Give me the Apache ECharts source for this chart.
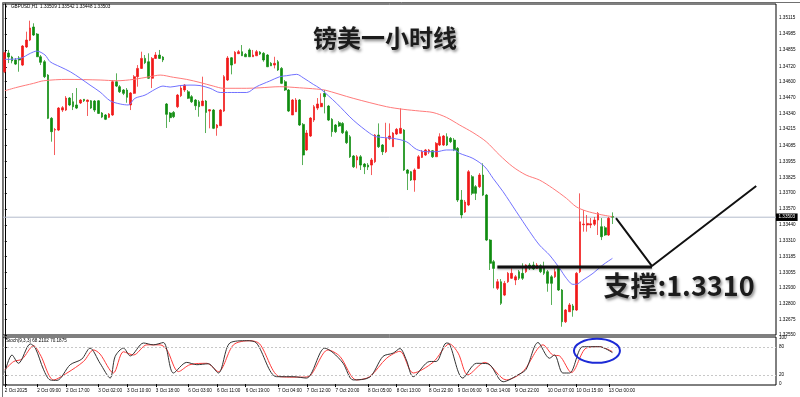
<!DOCTYPE html>
<html><head><meta charset="utf-8">
<script src="https://cdn.jsdelivr.net/npm/echarts@6/dist/echarts.min.js"></script>
<style>html,body{margin:0;padding:0;background:#fff}#c{width:800px;height:397px}</style>
</head><body><div id="c"></div><script>
// ---------- DATA ----------
const dayList = ['2 Oct','3 Oct','6 Oct','7 Oct','8 Oct','9 Oct','10 Oct','13 Oct','14 Oct'];
const SLOTS = 215;
const categories = [];
for (const d of dayList) for (let h = 0; h < 24; h++) if (categories.length < SLOTS) categories.push(d + ' ' + String(h).padStart(2,'0') + ':00');

const timeTicks = ['2 Oct 00:00','2 Oct 09:00','2 Oct 17:00','3 Oct 02:00','3 Oct 10:00','3 Oct 18:00','6 Oct 03:00','6 Oct 11:00','6 Oct 19:00','7 Oct 04:00','7 Oct 12:00','7 Oct 20:00','8 Oct 05:00','8 Oct 13:00','8 Oct 22:00','9 Oct 06:00','9 Oct 14:00','9 Oct 22:00','10 Oct 07:00','10 Oct 15:00','13 Oct 00:00'];
const firstTickText = '2 Oct 2025';

// [open, close, low, high]
const candles = [
[1.34680,1.34834,1.34669,1.34842],[1.34831,1.34799,1.34750,1.34856],[1.34799,1.34767,1.34748,1.34809],[1.34775,1.34742,1.34734,1.34791],
[1.34791,1.34775,1.34680,1.34807],[1.34734,1.34888,1.34726,1.34896],[1.34880,1.34936,1.34872,1.35004],[1.34936,1.35034,1.34928,1.35093],
[1.35042,1.34977,1.34969,1.35072],[1.34985,1.34801,1.34799,1.34993],[1.34801,1.34756,1.34734,1.34815],[1.34761,1.34640,1.34629,1.34775],
[1.34653,1.34303,1.34297,1.34661],[1.34303,1.34195,1.34114,1.34313],[1.34208,1.34212,1.34006,1.34225],[1.34208,1.34386,1.34200,1.34394],
[1.34370,1.34389,1.34354,1.34402],[1.34370,1.34467,1.34362,1.34483],[1.34467,1.34411,1.34402,1.34475],[1.34437,1.34397,1.34370,1.34508],
[1.34411,1.34386,1.34378,1.34548],[1.34427,1.34451,1.34419,1.34459],[1.34457,1.34445,1.34435,1.34459],[1.34439,1.34451,1.34322,1.34455],
[1.34445,1.34386,1.34378,1.34451],[1.34443,1.34370,1.34354,1.34451],[1.34445,1.34343,1.34338,1.34451],[1.34346,1.34313,1.34305,1.34354],
[1.34330,1.34295,1.34289,1.34338],[1.34311,1.34338,1.34305,1.34346],[1.34330,1.34599,1.34322,1.34613],[1.34599,1.34564,1.34556,1.34667],
[1.34559,1.34518,1.34508,1.34572],[1.34532,1.34505,1.34491,1.34540],[1.34532,1.34473,1.34429,1.34548],[1.34411,1.34508,1.34370,1.34516],
[1.34505,1.34640,1.34500,1.34653],[1.34640,1.34707,1.34559,1.34734],[1.34707,1.34788,1.34702,1.34842],[1.34788,1.34753,1.34742,1.34815],
[1.34761,1.34627,1.34621,1.34829],[1.34627,1.34788,1.34548,1.34799],[1.34788,1.34815,1.34783,1.34839],[1.34815,1.34788,1.34783,1.34856],
[1.34799,1.34775,1.34758,1.34807],[1.34419,1.34335,1.34225,1.34427],[1.34346,1.34308,1.34273,1.34354],[1.34351,1.34316,1.34305,1.34362],
[1.34397,1.34491,1.34386,1.34500],[1.34486,1.34548,1.34475,1.34564],[1.34532,1.34572,1.34516,1.34580],[1.34518,1.34465,1.34459,1.34532],
[1.34478,1.34437,1.34427,1.34491],[1.34451,1.34405,1.34370,1.34459],[1.34437,1.34397,1.34316,1.34451],[1.34405,1.34443,1.34402,1.34640],
[1.34443,1.34351,1.34184,1.34451],[1.34362,1.34373,1.34222,1.34378],[1.34370,1.34222,1.34216,1.34378],[1.34227,1.34249,1.34162,1.34257],
[1.34243,1.34370,1.34241,1.34378],[1.34362,1.34640,1.34354,1.34653],[1.34613,1.34791,1.34605,1.34807],[1.34793,1.34734,1.34659,1.34799],
[1.34748,1.34837,1.34742,1.34847],[1.34826,1.34842,1.34823,1.34856],[1.34842,1.34809,1.34807,1.34896],[1.34821,1.34801,1.34799,1.34831],
[1.34856,1.34801,1.34799,1.34869],[1.34801,1.34815,1.34799,1.34856],[1.34809,1.34842,1.34807,1.34856],[1.34839,1.34823,1.34815,1.34847],
[1.34829,1.34775,1.34761,1.34839],[1.34815,1.34720,1.34718,1.34823],[1.34748,1.34728,1.34726,1.34758],[1.34734,1.34748,1.34707,1.34801],
[1.34761,1.34694,1.34686,1.34775],[1.34707,1.34586,1.34580,1.34718],[1.34599,1.34532,1.34524,1.34613],[1.34532,1.34362,1.34354,1.34540],
[1.34330,1.34451,1.34330,1.34459],[1.34356,1.34451,1.34354,1.34467],[1.34451,1.34249,1.34241,1.34459],[1.34254,1.34006,1.33925,1.34265],
[1.34047,1.34184,1.34040,1.34208],[1.34160,1.34305,1.34152,1.34313],[1.34289,1.34397,1.34273,1.34411],[1.34386,1.34419,1.34370,1.34467],
[1.34397,1.34424,1.34394,1.34505],[1.34505,1.34478,1.34343,1.34532],[1.34402,1.34289,1.34281,1.34411],[1.34295,1.34195,1.34154,1.34305],
[1.34249,1.34195,1.34184,1.34257],[1.34267,1.34241,1.34233,1.34281],[1.34262,1.34186,1.34176,1.34273],[1.34195,1.34106,1.34095,1.34208],
[1.34154,1.33992,1.33982,1.34168],[1.33998,1.33911,1.33901,1.34006],[1.33966,1.33992,1.33898,1.34006],[1.33992,1.33925,1.33885,1.34006],
[1.33933,1.33911,1.33852,1.33941],[1.33925,1.33909,1.33885,1.33941],[1.33925,1.33966,1.33844,1.33982],[1.33952,1.34168,1.33941,1.34176],
[1.34168,1.34073,1.34063,1.34262],[1.34087,1.34033,1.34006,1.34095],[1.34033,1.34141,1.34022,1.34267],[1.34138,1.34160,1.34127,1.34262],
[1.34073,1.34184,1.34073,1.34192],[1.34176,1.34214,1.34168,1.34225],[1.34182,1.34222,1.34176,1.34384],[1.34208,1.33885,1.33877,1.34216],
[1.33885,1.33858,1.33723,1.33893],[1.33871,1.33804,1.33796,1.33877],[1.33804,1.33885,1.33709,1.33898],[1.33898,1.33992,1.33893,1.34006],
[1.33987,1.34033,1.33982,1.34047],[1.34006,1.34047,1.33998,1.34055],[1.34030,1.34047,1.34014,1.34055],[1.34041,1.33992,1.33982,1.34047],
[1.33992,1.34101,1.33990,1.34111],[1.34087,1.34154,1.34079,1.34182],[1.34087,1.34160,1.34079,1.34168],[1.34154,1.34087,1.34079,1.34182],
[1.34141,1.34114,1.34103,1.34152],[1.34127,1.34047,1.34038,1.34144],[1.34060,1.33642,1.33626,1.34071],[1.33642,1.33521,1.33494,1.33723],
[1.33545,1.33626,1.33537,1.33642],[1.33602,1.33871,1.33593,1.33885],[1.33831,1.33696,1.33682,1.33844],[1.33750,1.33696,1.33642,1.33763],
[1.33750,1.33844,1.33739,1.33860],[1.33844,1.33682,1.33674,1.33939],[1.33682,1.33318,1.33310,1.33691],[1.33318,1.33130,1.33076,1.33326],
[1.33143,1.33089,1.32928,1.33157],[1.32928,1.32981,1.32914,1.33003],[1.32981,1.32806,1.32793,1.33003],[1.32873,1.32968,1.32865,1.32987],
[1.32981,1.33049,1.32971,1.33060],[1.33009,1.33049,1.33003,1.33089],[1.32995,1.33021,1.32954,1.33035],[1.33062,1.33009,1.32995,1.33076],
[1.33049,1.33009,1.32995,1.33130],[1.33062,1.33116,1.33051,1.33122],[1.33116,1.33092,1.33076,1.33132],[1.33116,1.33084,1.33076,1.33143],
[1.33089,1.33116,1.33084,1.33132],[1.33110,1.33062,1.33051,1.33122],[1.33094,1.33049,1.33035,1.33143],[1.33062,1.32968,1.32900,1.33076],
[1.33021,1.32968,1.32793,1.33035],[1.33021,1.33062,1.33011,1.33089],[1.33089,1.32914,1.32906,1.33100],[1.32914,1.32657,1.32617,1.32922],
[1.32657,1.32752,1.32647,1.32760],[1.32738,1.32793,1.32736,1.32809],[1.32785,1.32752,1.32698,1.32801],[1.32752,1.33049,1.32744,1.33060],
[1.33062,1.33466,1.33051,1.33696],[1.33442,1.33448,1.33386,1.33561],[1.33440,1.33453,1.33386,1.33521],[1.33440,1.33450,1.33415,1.33496],
[1.33446,1.33480,1.33432,1.33505],[1.33480,1.33534,1.33359,1.33545],[1.33426,1.33345,1.33318,1.33496],[1.33418,1.33359,1.33351,1.33432],
[1.33359,1.33494,1.33351,1.33505],[1.33509,1.33503,1.33448,1.33542]
];

// moving averages, [bar index, price]
const maFast = [[0,1.34780],[4.3,1.34788],[7.1,1.34829],[8.9,1.34847],[11.2,1.34815],[12.6,1.34761],[15.4,1.34720],[18.2,1.34680],[21,1.34627],[23.7,1.34572],[26.5,1.34516],[29.3,1.34445],[32.1,1.34419],[34.3,1.34411],[36.2,1.34465],[39,1.34491],[41.8,1.34538],[44,1.34564],[46,1.34556],[48.7,1.34568],[51.5,1.34572],[54.3,1.34568],[57.1,1.34546],[59.9,1.34512],[64,1.34512],[67.3,1.34512],[70,1.34559],[73.7,1.34605],[76.5,1.34640],[78.4,1.34648],[81.2,1.34659],[83,1.34631],[85.8,1.34578],[87.6,1.34546],[92.3,1.34424],[96.9,1.34289],[101.5,1.34182],[103.4,1.34154],[108,1.34141],[111.7,1.34114],[114.5,1.34052],[117.3,1.34033],[120.1,1.34033],[122.8,1.34047],[125.1,1.34047],[126.5,1.34020],[130.2,1.33979],[133.5,1.33911],[135.8,1.33818],[138.6,1.33709],[142.3,1.33547],[146,1.33386],[148.7,1.33278],[151.5,1.33197],[154.3,1.33090],[156.2,1.33009],[158,1.32960],[158.9,1.32960],[160.8,1.32995],[163.6,1.33049],[166.3,1.33116],[169,1.33170]];
const maSlow = [[0,1.34526],[3.4,1.34554],[8,1.34586],[10.8,1.34607],[17.3,1.34618],[26.5,1.34613],[31.2,1.34607],[35.8,1.34618],[40.4,1.34640],[43.2,1.34653],[46.9,1.34635],[50.6,1.34618],[54.3,1.34593],[58,1.34564],[60.8,1.34546],[67.3,1.34546],[71,1.34550],[76.5,1.34559],[82,1.34550],[86.7,1.34540],[89,1.34532],[96.9,1.34465],[106.2,1.34397],[110.8,1.34376],[115.4,1.34362],[119.1,1.34350],[122.8,1.34311],[126.5,1.34249],[130.2,1.34188],[133.9,1.34114],[137.6,1.34006],[141.3,1.33911],[145,1.33844],[148.7,1.33804],[152.4,1.33737],[156.2,1.33656],[158.9,1.33588],[161.7,1.33553],[165.4,1.33526],[169,1.33507]];

// stochastic (9,3,3), [bar index, value]
const stochMain = [[0,25],[2,63],[3.8,45],[7.1,87],[8.5,78],[10.8,31],[12.6,9],[14.5,8],[18.2,42],[21.4,54],[23.7,78],[26.5,45],[29.3,13],[30.7,60],[33,78],[34.9,61],[38.6,89],[41.3,85],[44.1,90],[46.9,24],[50.6,47],[53.4,42],[56.6,44],[59.4,24],[62.6,89],[67.3,94],[70,89],[75.6,16],[80.2,16],[83.9,13],[89,78],[91.3,68],[94.1,45],[96.9,9],[101.5,15],[105.2,60],[108,67],[109.9,77],[111.7,52],[113.6,16],[118.2,49],[120,49],[122.8,89],[123.7,87],[127.4,13],[131.2,45],[134.4,44],[138.6,5],[143.2,22],[145,32],[148.3,90],[151.5,56],[152.9,63],[155.2,24],[157.1,24],[160.8,81],[165.4,81],[169,68.2]];
const stochSignal = [[0,31],[2.5,49],[4.8,54],[8,83],[9.9,63],[13.6,9],[17.3,24],[21.9,49],[24.7,74],[26.5,65],[30.2,24],[33,70],[35.8,63],[39.5,85],[43.2,85],[45.1,74],[48.3,27],[51.5,42],[56.2,45],[59.4,27],[63.6,85],[68.2,94],[70.9,87],[76.5,16],[82.1,15],[84.4,16],[89.9,74],[93.2,60],[97.8,9],[101.5,16],[106.2,56],[109.9,71],[113.6,24],[119.1,47],[123.7,87],[126.1,67],[128.8,20],[133.5,47],[139.5,9],[144.1,27],[149.7,85],[152.4,63],[154.3,61],[157.6,25],[161.7,78],[165.4,81],[169,70.2]];

const priceTicks = [1.32550,1.32675,1.32800,1.32930,1.33055,1.33185,1.33310,1.33440,1.33570,1.33700,1.33825,1.33955,1.34085,1.34215,1.34340,1.34470,1.34600,1.34720,1.34855,1.34985,1.35115];
const stochTicks = [0,20,80,100];
const stochLevels = [20,80];
const lastPrice = 1.33503;
const supportLevel = 1.3310;
const supportSpan = [137, 180];
const arrowPath = [[170,1.33496],[180,1.33108],[209,1.33755]];
const headerText = 'GBPUSD,H1  1.33509 1.33542 1.33448 1.33503';
const stochText = 'Stoch(9,3,3) 68.2102 70.1875';
const titleText = '镑美一小时线';
const supportText = '支撑:1.3310';
const ellipseAnchor = [164.7, 72];

// ---------- CHART ----------
const chart = echarts.init(document.getElementById('c'), null, {renderer: 'canvas'});
const tickSet = new Set(timeTicks);
const smallFont = {fontSize: 4.6, color: '#000', fontFamily: 'Liberation Sans'};
const UP = '#f01818', DOWN = '#108c10';

chart.setOption({
  animation: false,
  backgroundColor: '#fff',
  grid: [
    {left: 3, right: 24, top: 4, height: 331, show: true, borderColor: '#000', borderWidth: 1, backgroundColor: '#fff'},
    {left: 3, right: 24, top: 337, height: 48, show: true, borderColor: '#000', borderWidth: 1, backgroundColor: '#fff'}
  ],
  xAxis: [
    {type: 'category', gridIndex: 0, data: categories, boundaryGap: true, axisLine: {show: false}, axisTick: {show: false}, axisLabel: {show: false}},
    {type: 'value', gridIndex: 0, min: -0.5, max: SLOTS - 0.5, show: false},
    {type: 'category', gridIndex: 1, data: categories, boundaryGap: true,
      axisLine: {show: false},
      axisTick: {show: true, interval: (i, v) => tickSet.has(v), length: 3, lineStyle: {color: '#000', width: 1}, alignWithLabel: true},
      axisLabel: Object.assign({show: true, interval: (i, v) => tickSet.has(v), align: 'left', margin: 3,
        formatter: v => v === timeTicks[0] ? firstTickText : v}, smallFont)},
    {type: 'value', gridIndex: 1, min: -0.5, max: SLOTS - 0.5, show: false}
  ],
  yAxis: [
    {type: 'value', gridIndex: 0, position: 'right', min: 1.32550, max: 1.35228, scale: true,
      splitLine: {show: false},
      axisLine: {show: true, lineStyle: {color: '#000'}},
      axisTick: {show: true, length: 2, customValues: priceTicks, lineStyle: {color: '#000'}},
      axisLabel: Object.assign({show: true, margin: 3, customValues: priceTicks, formatter: v => v.toFixed(5)}, smallFont)},
    {type: 'value', gridIndex: 1, position: 'right', min: -2, max: 102,
      splitLine: {show: false},
      axisLine: {show: true, lineStyle: {color: '#000'}},
      axisTick: {show: true, length: 2, customValues: stochTicks, lineStyle: {color: '#000'}},
      axisLabel: Object.assign({show: true, margin: 3, customValues: stochTicks}, smallFont)}
  ],
  series: [
    {type: 'candlestick', xAxisIndex: 0, yAxisIndex: 0, data: candles, barWidth: 2.2,
      itemStyle: {color: UP, color0: DOWN, borderColor: UP, borderColor0: DOWN, borderWidth: 0.7}},
    {type: 'line', xAxisIndex: 1, yAxisIndex: 0, data: [[-0.5, lastPrice], [SLOTS - 0.5, lastPrice]], symbol: 'none',
      lineStyle: {color: '#b4bccc', width: 1}, z: 1,
      endLabel: {show: true, distance: 0, formatter: () => lastPrice.toFixed(5),
        backgroundColor: '#000', color: '#fff', fontSize: 4.6, fontFamily: 'Liberation Sans', padding: [1.5, 2.5, 1, 2.5]}},
    {type: 'line', xAxisIndex: 1, yAxisIndex: 0, data: maSlow, smooth: 0.3, symbol: 'none', lineStyle: {color: '#ff7b7b', width: 1}, z: 3},
    {type: 'line', xAxisIndex: 1, yAxisIndex: 0, data: maFast, smooth: 0.3, symbol: 'none', lineStyle: {color: '#7272ff', width: 1}, z: 3},
    {type: 'line', xAxisIndex: 1, yAxisIndex: 0, data: supportSpan.map(i => [i, supportLevel]), symbol: 'none',
      lineStyle: {color: '#111', width: 3, shadowColor: 'rgba(0,0,0,0.35)', shadowBlur: 2, shadowOffsetY: 1}, z: 5},
    {type: 'line', xAxisIndex: 1, yAxisIndex: 0, data: arrowPath, symbol: 'none', lineStyle: {color: '#111', width: 2}, z: 5},
    {type: 'line', xAxisIndex: 3, yAxisIndex: 1, data: stochMain, smooth: 0.3, symbol: 'none', lineStyle: {color: '#333', width: 1}, z: 4,
      markLine: {silent: true, symbol: 'none', label: {show: false}, lineStyle: {color: '#c8c8c8', type: [2, 2], width: 1},
        data: stochLevels.map(v => ({yAxis: v}))}},
    {type: 'line', xAxisIndex: 3, yAxisIndex: 1, data: stochSignal, smooth: 0.3, symbol: 'none', lineStyle: {color: '#ff3b3b', width: 1}, z: 3}
  ]
});

const ep = chart.convertToPixel({xAxisIndex: 3, yAxisIndex: 1}, ellipseAnchor);
chart.setOption({
  graphic: [
    {type: 'rect', left: 0, top: 0, shape: {x: 0.5, y: 0.5, width: 799, height: 396}, style: {fill: 'none', stroke: '#707070', lineWidth: 1}, silent: true},
    {type: 'text', x: 4, y: 4.5, style: {text: '▼', fontSize: 4, fill: '#000'}},
    {type: 'text', x: 11, y: 4.5, style: {text: headerText, fontSize: 4.6, fill: '#000', fontFamily: 'Liberation Sans'}},
    {type: 'text', x: 6, y: 338.5, style: {text: stochText, fontSize: 4.6, fill: '#000', fontFamily: 'Liberation Sans'}},
    {type: 'text', x: 385, y: 38, style: {text: titleText, fontSize: 24, fontWeight: 'bold', fontFamily: 'Noto Sans CJK SC',
      fill: '#1c1c1c', align: 'center', verticalAlign: 'middle', textShadowColor: 'rgba(0,0,0,0.45)', textShadowBlur: 3, textShadowOffsetX: 1.5, textShadowOffsetY: 1.5}},
    {type: 'text', x: 679, y: 286, style: {text: supportText, fontSize: 27, fontWeight: 'bold', fontFamily: 'Noto Sans CJK SC',
      fill: '#1c1c1c', align: 'center', verticalAlign: 'middle', textShadowColor: 'rgba(0,0,0,0.45)', textShadowBlur: 3, textShadowOffsetX: 1.5, textShadowOffsetY: 1.5}},
    {type: 'ellipse', shape: {cx: ep[0], cy: ep[1], rx: 23, ry: 12}, style: {fill: 'none', stroke: '#1c2ad6', lineWidth: 2}, z: 10}
  ]
});
</script></body></html>
